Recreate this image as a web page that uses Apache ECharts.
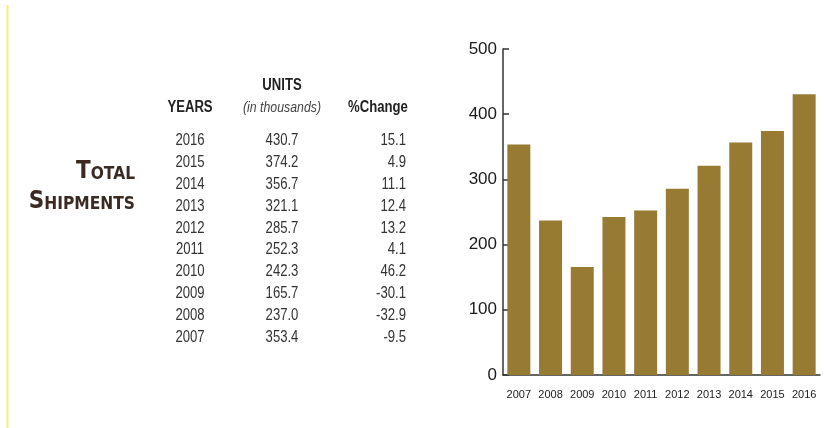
<!DOCTYPE html>
<html>
<head>
<meta charset="utf-8">
<script src="https://cdn.jsdelivr.net/npm/echarts@6/dist/echarts.min.js"></script>
<style>
  html, body { margin: 0; padding: 0; background: #fff; }
  #chart { width: 828px; height: 428px; }
</style>
</head>
<body>
<div id="chart"></div>
<script>
// table rows, newest first (as printed)
const years = ['2016', '2015', '2014', '2013', '2012', '2011', '2010', '2009', '2008', '2007'];
const units = [430.7, 374.2, 356.7, 321.1, 285.7, 252.3, 242.3, 165.7, 237.0, 353.4];
const pctChange = [15.1, 4.9, 11.1, 12.4, 13.2, 4.1, 46.2, -30.1, -32.9, -9.5];
const yTicks = [0, 100, 200, 300, 400, 500];

const font = "'Liberation Sans', Arial, sans-serif";
const textColor = '#333';
const barColor = '#977b33';
const squeeze = 0.82; // no condensed face installed, so squash the table text

// chart goes oldest -> newest
const barYears = years.slice().reverse();
const barUnits = units.slice().reverse();

let myChart = echarts.init(document.getElementById('chart'));

let graphics = [];
// faint yellow rule on the left
graphics.push({
    type: 'line',
    shape: {x1: 7.5, y1: 5, x2: 7.5, y2: 428},
    style: {stroke: '#f5f07a', lineWidth: 2}
});
// title in small caps
const titleRich = {
    big: {fontFamily: 'DejaVu Sans', fontWeight: 'bold', fontSize: 25, fill: '#3a2a22', verticalAlign: 'bottom', lineHeight: 25},
    sm: {fontFamily: 'DejaVu Sans', fontWeight: 'bold', fontSize: 18, fill: '#3a2a22', verticalAlign: 'bottom', lineHeight: 25}
};
graphics.push({
    type: 'text', x: 135, y: 171, scaleX: 0.86,
    style: {text: '{big|T}{sm|OTAL}', rich: titleRich, align: 'right', verticalAlign: 'middle'}
});
graphics.push({
    type: 'text', x: 135, y: 201, scaleX: 0.86,
    style: {text: '{big|S}{sm|HIPMENTS}', rich: titleRich, align: 'right', verticalAlign: 'middle'}
});
// headers
const head = (txt, x, y, align, extra) => ({
    type: 'text', x: x, y: y, scaleX: squeeze,
    style: Object.assign({
        text: txt, align: align, verticalAlign: 'middle',
        fontFamily: font, fontSize: 16, fontWeight: 'bold', fill: '#222'
    }, extra || {})
});
graphics.push(head('YEARS', 190, 108, 'center'));
graphics.push(head('UNITS', 282, 86, 'center'));
graphics.push(head('(in thousands)', 282, 108, 'center', {fontWeight: 'normal', fontStyle: 'italic', fontSize: 15, fill: '#444'}));
graphics.push(head('%Change', 378, 108, 'center'));
// rows
years.forEach((yr, i) => {
    const y = 141 + i * 21.8;
    const base = {fontFamily: font, fontSize: 16, fill: textColor, verticalAlign: 'middle'};
    graphics.push({type: 'text', x: 190, y: y, scaleX: squeeze, style: Object.assign({text: yr, align: 'center'}, base)});
    graphics.push({type: 'text', x: 282, y: y, scaleX: squeeze, style: Object.assign({text: units[i].toFixed(1), align: 'center'}, base)});
    graphics.push({type: 'text', x: 406, y: y, scaleX: squeeze, style: Object.assign({text: pctChange[i].toFixed(1), align: 'right'}, base)});
});

let option = {
    animation: false,
    grid: {left: 503, right: 8, top: 49, bottom: 53},
    xAxis: {
        type: 'category',
        data: barYears,
        boundaryGap: true,
        axisLine: {lineStyle: {color: '#333', width: 1.5}},
        axisTick: {inside: true, length: 4, lineStyle: {color: '#333', width: 1.5}},
        axisLabel: {interval: 0, fontFamily: font, fontSize: 11, color: '#222', margin: 14}
    },
    yAxis: {
        type: 'value',
        min: yTicks[0],
        max: yTicks[yTicks.length - 1],
        interval: 100,
        axisLine: {show: true, lineStyle: {color: '#333', width: 1.5}},
        axisTick: {show: true, inside: true, length: 6, lineStyle: {color: '#333', width: 1.5}},
        splitLine: {show: false},
        axisLabel: {fontFamily: font, fontSize: 17, color: '#1a1a1a', margin: 6}
    },
    series: [{
        type: 'bar',
        data: barUnits,
        barWidth: 23,
        itemStyle: {color: barColor}
    }],
    graphic: graphics
};
myChart.setOption(option);
</script>
</body>
</html>
